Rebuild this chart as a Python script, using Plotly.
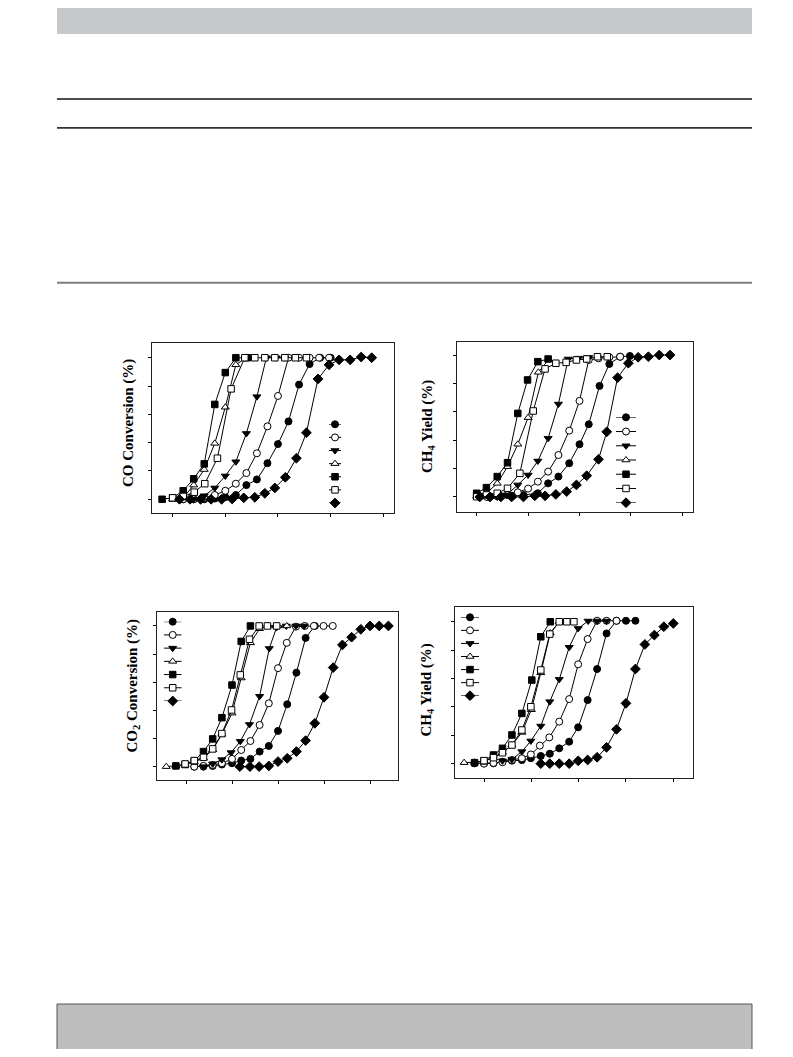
import plotly.graph_objects as go

# The page body adds an 8 px margin, so the figure is drawn 8 px in from the
# window corner; all geometry below is given in window pixels.
OFF = 8
W, H = 793 - 2 * OFF, 1057 - 2 * OFF

# ---------------- data ----------------
SERIES = ["a", "b", "c", "d", "e", "f", "g"]
SYMBOLS = {"a": "circle", "b": "circle", "c": "triangle-down", "d": "triangle-up",
           "e": "square", "f": "square", "g": "diamond"}
FILLED = {"a": True, "b": False, "c": True, "d": False, "e": True, "f": False, "g": True}
SIZES = {"a": 7, "b": 7, "c": 7, "d": 7, "e": 6.5, "f": 6.5, "g": 7.5}

X_TICKS = [100, 200, 300, 400, 500]
Y_TICKS = [0, 20, 40, 60, 80, 100]

# Panel 1: CO Conversion (%)
P1_T = {
    "a": [120, 140, 160, 180, 200, 220, 240, 260, 280, 300, 320, 340, 360, 380, 400],
    "b": [120, 140, 160, 180, 200, 220, 240, 260, 280, 300, 320, 340, 360, 378, 397],
    "c": [140, 160, 180, 200, 220, 240, 260, 278, 296, 313],
    "d": [100, 120, 140, 160, 180, 200, 220, 240],
    "e": [80, 100, 120, 140, 160, 180, 200, 220, 242],
    "f": [100, 120, 141, 161, 185, 211, 237, 256, 275, 294, 313, 333, 354],
    "g": [113, 133, 153, 173, 193, 213, 235, 256, 275, 294, 314, 335, 354, 376, 397, 416, 437, 458, 478],
}
P1_V = {
    "a": [0, 0, 0, 0.5, 1.5, 3, 10, 14, 25.5, 39, 55, 81, 95.5, 100, 100],
    "b": [0, 0, 1, 3, 6, 11, 18.5, 32.5, 51.5, 73, 100, 100, 100, 100, 100],
    "c": [0, 2.5, 8, 16.5, 26.5, 46.5, 72.5, 100, 100, 100],
    "d": [0, 1, 10, 21, 39.5, 65, 95, 100],
    "e": [0, 1, 6, 14.5, 25, 67, 89.5, 100, 100],
    "f": [1, 2, 5, 11, 29, 78, 100, 100, 100, 100, 100, 100, 100],
    "g": [0, 0, 0, 0, 0, 0.2, 1, 1.4, 4.2, 8, 15.5, 29, 47, 85, 95, 98.5, 98.5, 100.5, 100],
}

# Panel 2: CH4 Yield (%)
P2_T = {
    "a": [106, 126, 147, 170, 191, 219, 239, 259, 280, 300, 318, 339, 358, 379, 398],
    "b": [120, 140, 160, 180, 200, 219, 239, 259, 280, 300, 318, 337, 358, 379],
    "c": [140, 158, 180, 200, 219, 239, 259, 278, 298, 318],
    "d": [100, 120, 140, 160, 180, 200, 220, 240],
    "e": [100, 119, 140, 160, 180, 199, 219, 239],
    "f": [100, 119, 140, 160, 184, 210, 233, 254, 274, 294, 314, 335, 354],
    "g": [106, 126, 147, 168, 191, 213, 233, 254, 275, 294, 314, 337, 353, 374, 395, 414, 434, 455, 476],
}
P2_V = {
    "a": [0.5, 0.5, 0.5, 0.8, 1.4, 2.6, 9.6, 14.4, 23.8, 37.2, 51.3, 78.4, 93.9, 99, 99.5],
    "b": [0, 0.5, 1.4, 3.3, 5.9, 10.8, 17.9, 29.6, 46.8, 67.8, 96.7, 97.9, 98.6, 99],
    "c": [0, 1.4, 8.5, 15.5, 25.4, 41.4, 65.6, 97.4, 98, 98.5],
    "d": [0.5, 3, 9.6, 21.4, 37.2, 56, 88, 97],
    "e": [2.6, 6.6, 14.4, 24.2, 59, 82.6, 95.5, 97.4],
    "f": [0.2, 1.4, 2.6, 6.1, 16.7, 60.7, 90.4, 94.4, 95, 96.7, 97.4, 99, 99],
    "g": [0, 0, 0, 0, 0, 0.8, 0.8, 1.8, 3.8, 8.5, 15, 26.6, 46, 84.2, 94.4, 98.6, 99, 100.2, 100.2],
}

# Panel 3: CO2 Conversion (%)
P3_T = {
    "a": [118, 138, 158, 178, 200, 220, 240, 260, 280, 300, 320, 340, 360, 380],
    "b": [118, 138, 158, 178, 200, 220, 240, 260, 280, 300, 319, 339, 358, 378, 399, 419],
    "c": [138, 158, 178, 198, 218, 238, 260, 281, 297, 318, 339, 357],
    "d": [57, 78, 98, 118, 138, 158, 178, 200, 220, 240, 260, 280, 300, 319],
    "e": [78, 98, 118, 138, 158, 178, 200, 220, 240],
    "f": [98, 118, 138, 158, 178, 199, 218, 238, 259, 277, 297],
    "g": [217, 239, 259, 280, 300, 320, 340, 360, 380, 400, 420, 440, 460, 480, 500, 520, 540],
}
P3_V = {
    "a": [0, 0, 0.5, 1.5, 2.4, 4.3, 5.5, 10.7, 14.7, 25.4, 44.3, 66.8, 91.5, 100],
    "b": [0, 0.5, 1.2, 2.4, 5.5, 11.8, 18.2, 29.6, 45, 70, 88, 99.5, 100, 100, 100, 100],
    "c": [0, 2, 5, 10, 18, 30, 50, 84, 99, 100, 100, 100],
    "d": [0, 0.5, 1.5, 3.5, 6, 12, 23, 38, 63, 88, 98, 100, 100, 100],
    "e": [0.5, 1.5, 4, 10.7, 19.7, 34.8, 58, 89, 100],
    "f": [1.9, 4.3, 6.6, 12.6, 23.5, 40.3, 65.2, 90.5, 100, 100, 100],
    "g": [0, 0, 0, 0.5, 3.6, 5.9, 10.7, 18.5, 30.8, 49.3, 70.4, 86.5, 92, 97.6, 100, 100, 100],
}

# Panel 4: CH4 Yield (%)
P4_T = {
    "a": [80, 100, 120, 139, 159, 180, 199, 220, 239, 259, 280, 299, 319, 339, 359, 380, 400, 420],
    "b": [100, 120, 139, 159, 180, 199, 218, 238, 259, 280, 299, 319, 339, 359, 380],
    "c": [139, 159, 180, 199, 220, 239, 259, 280, 299, 320, 339, 359],
    "d": [58, 80, 100, 120, 139, 159, 180, 200, 220, 240, 259],
    "e": [80, 100, 120, 139, 159, 180, 201, 220, 240],
    "f": [100, 120, 139, 159, 180, 199, 220, 239, 259, 275, 290],
    "g": [220, 239, 259, 280, 299, 319, 339, 359, 380, 400, 420, 440, 460, 480, 500],
}
P4_V = {
    "a": [0.2, 0.2, 0.2, 1.4, 2.1, 2.5, 3.8, 5.4, 7, 10.8, 15.5, 25.6, 44.8, 66.7, 91.8, 100.7, 100.7, 100.7],
    "b": [0, 0.5, 1, 2.6, 3.8, 6.5, 12.7, 18.5, 29.6, 45.5, 70, 87.8, 100.7, 100.7, 100.7],
    "c": [2, 3, 8.5, 16, 26.5, 43.7, 59.4, 82, 95.3, 100.5, 100.5, 100.5],
    "d": [0.7, 1, 2, 4, 8, 13, 22, 38, 64, 92, 100],
    "e": [0.7, 2, 6.1, 10.8, 20.2, 35.4, 58.9, 89.4, 100],
    "f": [2.1, 4.2, 7.7, 13.1, 23.7, 40.1, 66, 91.3, 100, 100, 100],
    "g": [0, 0, 0, 0, 2, 2.6, 4.5, 11.5, 24.2, 42.5, 66.7, 84, 90.6, 96.5, 98.8],
}

TITLES = ["CO Conversion (%)", "CH<sub>4</sub> Yield (%)",
          "CO<sub>2</sub> Conversion (%)", "CH<sub>4</sub> Yield (%)"]

# ---------------- layout geometry (window pixels) ----------------
PANELS = [
    dict(T=P1_T, V=P1_V, frame=(152, 394, 343, 513), xr=(60.8, 520.3), yr=(-9.7, 110.4),
         leg=dict(cx=335, hw=6, y0=424.3, y1=503.0), title=(128.5, 422.5)),
    dict(T=P2_T, V=P2_V, frame=(456.7, 693, 341.7, 511.7), xr=(61.2, 520.7), yr=(-10.4, 109.6),
         leg=dict(cx=626, hw=10, y0=417.3, y1=502.7), title=(427.5, 426.5)),
    dict(T=P3_T, V=P3_V, frame=(157.3, 397.7, 612.3, 780), xr=(37.6, 560.2), yr=(-9.5, 109.7),
         leg=dict(cx=172.7, hw=9, y0=621.7, y1=701.0), title=(132.5, 686)),
    dict(T=P4_T, V=P4_V, frame=(455, 693.3, 606.7, 777.7), xr=(38.7, 542.3), yr=(-9.9, 110.6),
         leg=dict(cx=470, hw=9, y0=617.3, y1=695.7), title=(426.5, 690)),
]


def px(x):
    return (x - OFF) / W


def py(y):
    return 1 - (y - OFF) / H


def marker_style(key, size=None):
    filled = FILLED[key]
    return dict(symbol=SYMBOLS[key], size=SIZES[key] if size is None else size,
                color="black" if filled else "white",
                line=dict(color="black", width=1))


fig = go.Figure()
layout = dict(width=W, height=H, margin=dict(l=0, r=0, t=0, b=0), autosize=False,
              paper_bgcolor="white", plot_bgcolor="rgba(0,0,0,0)", showlegend=False,
              shapes=[], annotations=[])

axis_common = dict(showgrid=False, zeroline=False, showticklabels=False, ticks="outside",
                   ticklen=3, tickwidth=1, tickcolor="black", showline=True, mirror=True,
                   linecolor="#222", linewidth=1, fixedrange=True)

for i, p in enumerate(PANELS):
    n = i + 1
    xa = "xaxis" if n == 1 else f"xaxis{n}"
    ya = "yaxis" if n == 1 else f"yaxis{n}"
    xref = "x" if n == 1 else f"x{n}"
    yref = "y" if n == 1 else f"y{n}"
    l, r, t, b = p["frame"]
    layout[xa] = dict(axis_common, domain=[px(l), px(r)], range=list(p["xr"]),
                      tickvals=X_TICKS, anchor=yref)
    layout[ya] = dict(axis_common, domain=[py(b), py(t)], range=list(p["yr"]),
                      tickvals=Y_TICKS, anchor=xref)
    for key in SERIES:
        fig.add_trace(go.Scatter(x=p["T"][key], y=p["V"][key], mode="lines+markers",
                                 xaxis=xref, yaxis=yref, line=dict(color="black", width=1),
                                 marker=marker_style(key), cliponaxis=False,
                                 hoverinfo="skip"))
    # inline legend samples (positions derived from the series index)
    m = n + 4
    lxa, lya = f"xaxis{m}", f"yaxis{m}"
    lg = p["leg"]
    layout[lxa] = dict(domain=[px(lg["cx"] - lg["hw"]), px(lg["cx"] + lg["hw"])], range=[0, 1],
                       visible=False, anchor=f"y{m}", fixedrange=True)
    layout[lya] = dict(domain=[py(lg["y1"]), py(lg["y0"])], range=[len(SERIES) - 1, 0],
                       visible=False, anchor=f"x{m}", fixedrange=True)
    for idx, key in enumerate(SERIES):
        fig.add_trace(go.Scatter(x=[0, 1], y=[idx, idx], mode="lines",
                                 xaxis=f"x{m}", yaxis=f"y{m}", line=dict(color="black", width=1),
                                 cliponaxis=False, hoverinfo="skip"))
        fig.add_trace(go.Scatter(x=[0.5], y=[idx], mode="markers",
                                 xaxis=f"x{m}", yaxis=f"y{m}",
                                 marker=marker_style(key), cliponaxis=False, hoverinfo="skip"))
    tx, ty = p["title"]
    layout["annotations"].append(dict(text=TITLES[i], x=px(tx), y=py(ty), xref="paper",
                                      yref="paper", showarrow=False, textangle=-90,
                                      xanchor="center", yanchor="middle",
                                      font=dict(family="Liberation Serif", size=15,
                                                color="black", weight="bold")))

# page decoration
PAGE_L, PAGE_R = 57, 752
layout["shapes"] += [
    dict(type="rect", xref="paper", yref="paper", x0=px(PAGE_L), x1=px(PAGE_R),
         y0=py(34), y1=py(8), fillcolor="#c7c8cb", line=dict(width=0), layer="below"),
    dict(type="line", xref="paper", yref="paper", x0=px(PAGE_L), x1=px(PAGE_R),
         y0=py(99), y1=py(99), line=dict(color="#111", width=1.3)),
    dict(type="line", xref="paper", yref="paper", x0=px(PAGE_L), x1=px(PAGE_R),
         y0=py(127.8), y1=py(127.8), line=dict(color="#333", width=1.8)),
    dict(type="line", xref="paper", yref="paper", x0=px(PAGE_L), x1=px(PAGE_R),
         y0=py(282.8), y1=py(282.8), line=dict(color="#7d7d7d", width=2)),
    dict(type="rect", xref="paper", yref="paper", x0=px(PAGE_L), x1=px(PAGE_R),
         y0=py(1053), y1=py(1004), fillcolor="#bebebe", line=dict(color="#555", width=1),
         layer="below"),
]

fig.update_layout(**layout)
fig.write_html("out.html", config={"displayModeBar": False})
